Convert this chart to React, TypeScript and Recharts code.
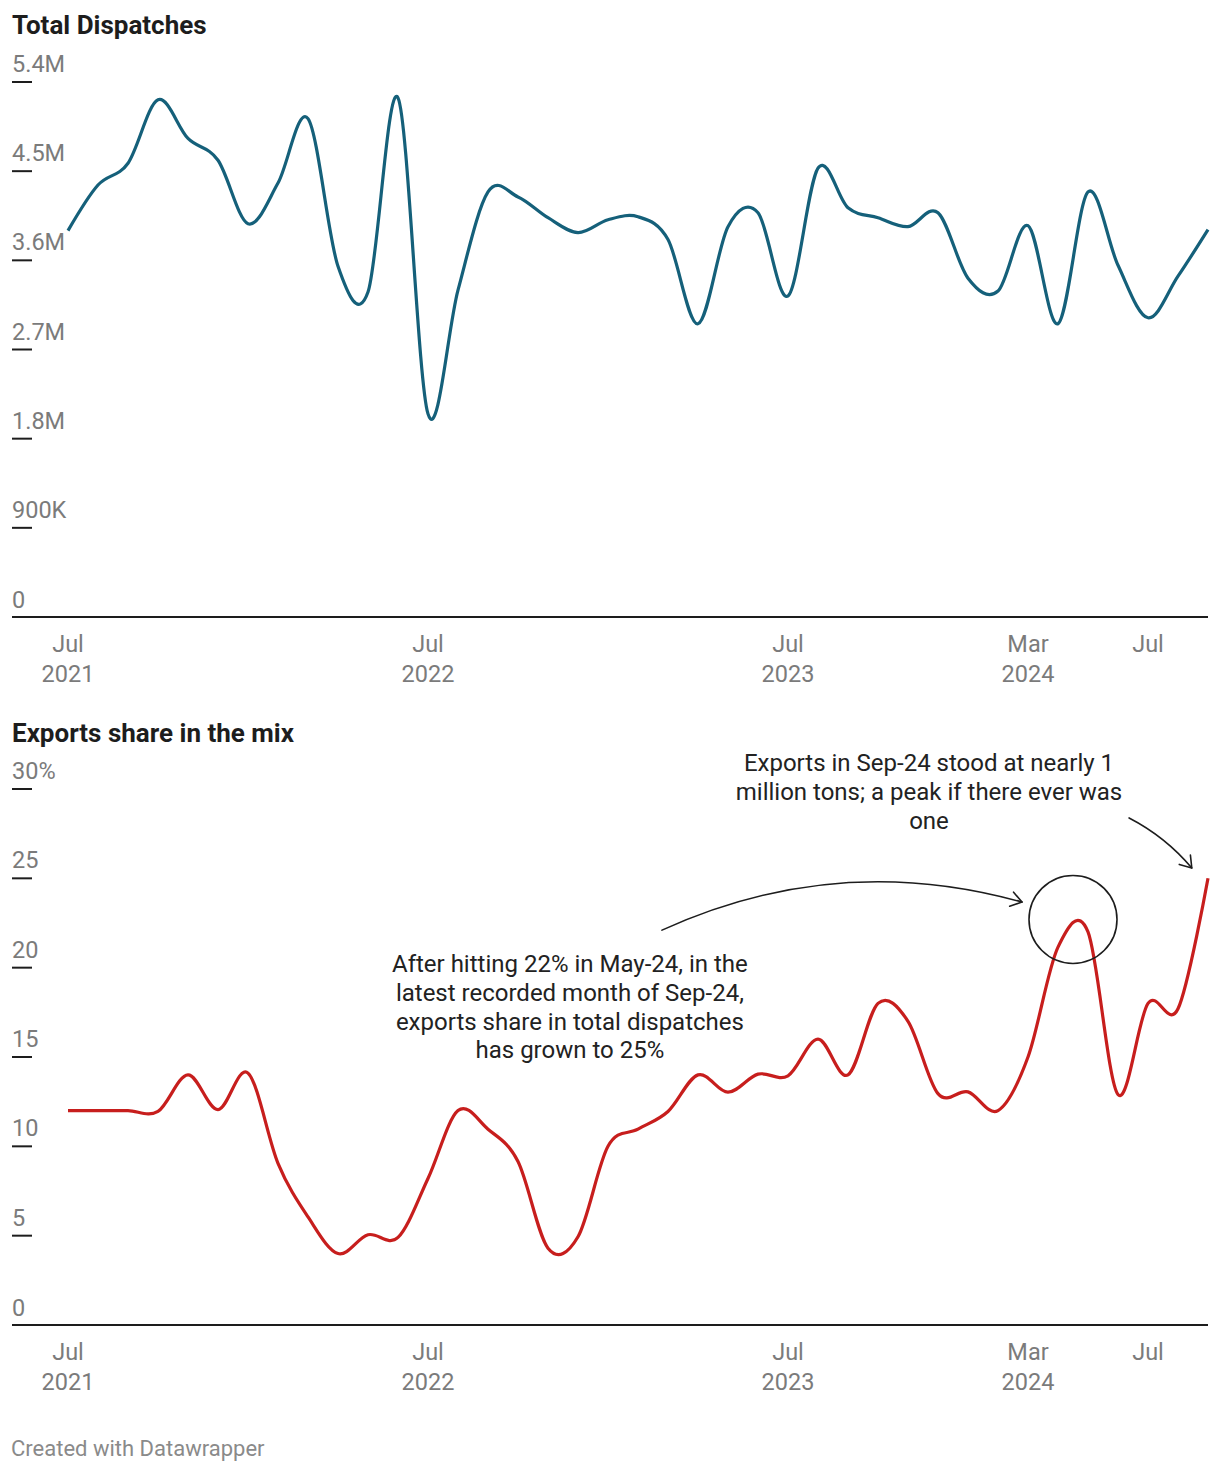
import React from 'react';
import { LineChart, Line, XAxis, YAxis, ReferenceDot, ReferenceLine } from 'recharts';

// ---------- data ----------
const months = [
  'Jul-21', 'Aug-21', 'Sep-21', 'Oct-21', 'Nov-21', 'Dec-21',
  'Jan-22', 'Feb-22', 'Mar-22', 'Apr-22', 'May-22', 'Jun-22', 'Jul-22', 'Aug-22', 'Sep-22', 'Oct-22', 'Nov-22', 'Dec-22',
  'Jan-23', 'Feb-23', 'Mar-23', 'Apr-23', 'May-23', 'Jun-23', 'Jul-23', 'Aug-23', 'Sep-23', 'Oct-23', 'Nov-23', 'Dec-23',
  'Jan-24', 'Feb-24', 'Mar-24', 'Apr-24', 'May-24', 'Jun-24', 'Jul-24', 'Aug-24', 'Sep-24',
];

// total dispatches, millions of tons
const dispatchesM = [
  3.90, 4.36, 4.58, 5.22, 4.83, 4.61,
  3.97, 4.38, 5.03, 3.54, 3.28, 5.24, 2.05, 3.30, 4.29, 4.24, 4.03, 3.88,
  4.01, 4.04, 3.81, 2.96, 3.94, 4.08, 3.24, 4.53, 4.13, 4.03, 3.94, 4.08,
  3.42, 3.29, 3.95, 2.96, 4.29, 3.55, 3.02, 3.44, 3.91,
];

// exports share in dispatches, %
const exportSharePct = [
  12.0, 12.0, 12.0, 11.95, 14.0, 12.05,
  14.1, 9.05, 6.05, 4.0, 5.05, 4.9, 8.2, 12.0, 10.96, 9.15, 4.3, 4.94,
  10.0, 10.96, 11.95, 14.0, 13.03, 14.04, 13.95, 16.0, 14.0, 18.0, 17.0, 12.95,
  13.05, 12.0, 15.0, 21.15, 22.0, 12.9, 18.0, 17.7, 25.0,
];

const xTickIdx = [0, 12, 24, 32, 36];
const xTickMonth = ['Jul', 'Jul', 'Jul', 'Mar', 'Jul'];
const xTickYear = ['2021', '2022', '2023', '2024', ''];

const dispatchTicks = [0, 0.9, 1.8, 2.7, 3.6, 4.5, 5.4];
const dispatchTickLabels = ['0', '900K', '1.8M', '2.7M', '3.6M', '4.5M', '5.4M'];
const shareTicks = [0, 5, 10, 15, 20, 25, 30];
const shareTickLabels = ['0', '5', '10', '15', '20', '25', '30%'];

const tableData = months.map((m, i) => ({
  idx: i,
  month: m,
  dispatches: dispatchesM[i],
  share: exportSharePct[i],
}));

// annotations (anchored in data coordinates: x = month index, y = %)
const noteCircle = { x: 33.5, y: 22.7 };
const noteTexts = [
  {
    x: 28.7, y: 29.38, anchorLine: 1,
    lines: ['Exports in Sep-24 stood at nearly 1', 'million tons; a peak if there ever was', 'one'],
  },
  {
    x: 16.73, y: 19.74, anchorLine: 0,
    lines: ['After hitting 22% in May-24, in the', 'latest recorded month of Sep-24,', 'exports share in total dispatches', 'has grown to 25%'],
  },
];
const noteArrows = [
  { from: { x: 35.37, y: 28.38 }, to: { x: 37.46, y: 25.58 }, bend: 8 },
  { from: { x: 19.8, y: 22.1 }, to: { x: 31.8, y: 23.67 }, bend: 66 },
];

// ---------- styles ----------
const FONT = 'Roboto, "Noto Sans", sans-serif';
const BLUE = '#15607a';
const RED = '#c71e1d';
const AXIS_GREY = '#7b7b7b';
const INK = '#1d1d1d';
const PLOT_LEFT = 12;
const TICK_FONT = 23.5;

// ---------- cardinal curve (d3 style) ----------
class CardinalCurve {
  _context: any;
  _k: number;
  _line: number = NaN;
  _point = 0;
  _x0 = NaN; _x1 = NaN; _x2 = NaN;
  _y0 = NaN; _y1 = NaN; _y2 = NaN;
  constructor(context: any, tension: number) {
    this._context = context;
    this._k = (1 - tension) / 6;
  }
  areaStart() { this._line = 0; }
  areaEnd() { this._line = NaN; }
  lineStart() {
    this._x0 = this._x1 = this._x2 = this._y0 = this._y1 = this._y2 = NaN;
    this._point = 0;
  }
  _bez(x: number, y: number) {
    this._context.bezierCurveTo(
      this._x1 + this._k * (this._x2 - this._x0),
      this._y1 + this._k * (this._y2 - this._y0),
      this._x2 + this._k * (this._x1 - x),
      this._y2 + this._k * (this._y1 - y),
      this._x2,
      this._y2,
    );
  }
  lineEnd() {
    switch (this._point) {
      case 2: this._context.lineTo(this._x2, this._y2); break;
      case 3: this._bez(this._x1, this._y1); break;
    }
    if (this._line || (this._line !== 0 && this._point === 1)) this._context.closePath();
    this._line = 1 - this._line;
  }
  point(x: number, y: number) {
    x = +x; y = +y;
    switch (this._point) {
      case 0:
        this._point = 1;
        if (this._line) this._context.lineTo(x, y); else this._context.moveTo(x, y);
        break;
      case 1:
        this._point = 2;
        this._x1 = x; this._y1 = y;
        break;
      case 2:
        this._point = 3;
        this._bez(x, y);
        break;
      default:
        this._bez(x, y);
        break;
    }
    this._x0 = this._x1; this._x1 = this._x2; this._x2 = x;
    this._y0 = this._y1; this._y1 = this._y2; this._y2 = y;
  }
}
const cardinal = (context: any) => new CardinalCurve(context, 0);

// ---------- tick renderers ----------
const makeYTick = (ticks: number[], labels: string[]) => (props: any) => {
  const { y, payload } = props;
  const i = ticks.indexOf(payload.value);
  const isZero = payload.value === 0;
  return (
    <g>
      {!isZero && <line x1={PLOT_LEFT} x2={PLOT_LEFT + 20} y1={y} y2={y} stroke={INK} strokeWidth={2} />}
      <text x={PLOT_LEFT} y={y - (isZero ? 9 : 10)} fill={AXIS_GREY} fontSize={TICK_FONT} fontFamily={FONT}>
        {labels[i]}
      </text>
    </g>
  );
};

const XTick = (props: any) => {
  const { x, y, payload } = props;
  const i = xTickIdx.indexOf(payload.value);
  return (
    <text x={x} y={y} textAnchor="middle" fill={AXIS_GREY} fontSize={TICK_FONT} fontFamily={FONT}>
      <tspan x={x} y={y + 34.8}>{xTickMonth[i]}</tspan>
      {xTickYear[i] && <tspan x={x} y={y + 65}>{xTickYear[i]}</tspan>}
    </text>
  );
};

const NoteText = (lines: string[], anchorLine: number) => (p: any) => (
  <text textAnchor="middle" fill="#222" fontSize={24} fontFamily={FONT}>
    {lines.map((l, k) => (
      <tspan key={k} x={p.cx} y={p.cy + (k - anchorLine) * 28.6}>{l}</tspan>
    ))}
  </text>
);

const ArrowShape = (bend: number) => (p: any) => {
  const { x1, y1, x2, y2 } = p;
  const dx = x2 - x1;
  const dy = y2 - y1;
  const len = Math.sqrt(dx * dx + dy * dy) || 1;
  const nx = dy / len;
  const ny = -dx / len;
  const cx = (x1 + x2) / 2 + nx * bend;
  const cy = (y1 + y2) / 2 + ny * bend;
  const tx = x2 - cx;
  const ty = y2 - cy;
  const tl = Math.sqrt(tx * tx + ty * ty) || 1;
  const ux = -tx / tl;
  const uy = -ty / tl;
  const L = 13;
  const th = (34 * Math.PI) / 180;
  const a1x = x2 + L * (ux * Math.cos(th) - uy * Math.sin(th));
  const a1y = y2 + L * (ux * Math.sin(th) + uy * Math.cos(th));
  const a2x = x2 + L * (ux * Math.cos(-th) - uy * Math.sin(-th));
  const a2y = y2 + L * (ux * Math.sin(-th) + uy * Math.cos(-th));
  return (
    <g fill="none" stroke={INK} strokeWidth={1.6} strokeLinecap="round" strokeLinejoin="round">
      <path d={`M${x1},${y1} Q${cx},${cy} ${x2},${y2}`} />
      <path d={`M${a1x},${a1y} L${x2},${y2} L${a2x},${a2y}`} />
    </g>
  );
};

export default function App() {
  return (
    <div style={{ position: 'absolute', left: 0, top: 0, width: 1220, height: 1472, background: '#fff', fontFamily: FONT }}>
      <div style={{ position: 'absolute', left: 0, top: 0 }}>
        <LineChart width={1220} height={700} data={tableData} margin={{ top: 82, right: 12, left: PLOT_LEFT - 1, bottom: 23 }}>
          <XAxis
            dataKey="idx"
            type="number"
            domain={[0, 38]}
            ticks={xTickIdx}
            interval={0}
            padding={{ left: 56, right: 0 }}
            height={60}
            tickSize={0}
            tickMargin={0}
            tickLine={false}
            axisLine={{ stroke: INK, strokeWidth: 2 }}
            tick={XTick}
          />
          <YAxis
            type="number"
            domain={[0, 5.4]}
            ticks={dispatchTicks}
            interval={0}
            width={1}
            tickSize={0}
            tickMargin={0}
            axisLine={false}
            tickLine={false}
            tick={makeYTick(dispatchTicks, dispatchTickLabels)}
          />
          <Line
            dataKey="dispatches"
            type={cardinal as any}
            stroke={BLUE}
            strokeWidth={3.2}
            dot={false}
            activeDot={false}
            isAnimationActive={false}
          />
        </LineChart>
      </div>
      <div style={{ position: 'absolute', left: 0, top: 700 }}>
        <LineChart width={1220} height={772} data={tableData} margin={{ top: 89, right: 12, left: PLOT_LEFT - 1, bottom: 87 }}>
          <XAxis
            dataKey="idx"
            type="number"
            domain={[0, 38]}
            ticks={xTickIdx}
            interval={0}
            padding={{ left: 56, right: 0 }}
            height={60}
            tickSize={0}
            tickMargin={0}
            tickLine={false}
            axisLine={{ stroke: INK, strokeWidth: 2 }}
            tick={XTick}
          />
          <YAxis
            type="number"
            domain={[0, 30]}
            ticks={shareTicks}
            interval={0}
            width={1}
            tickSize={0}
            tickMargin={0}
            axisLine={false}
            tickLine={false}
            tick={makeYTick(shareTicks, shareTickLabels)}
          />
          <Line
            dataKey="share"
            type={cardinal as any}
            stroke={RED}
            strokeWidth={3.2}
            dot={false}
            activeDot={false}
            isAnimationActive={false}
          />
          <ReferenceDot
            x={noteCircle.x}
            y={noteCircle.y}
            r={44}
            fill="none"
            stroke={INK}
            strokeWidth={1.6}
            ifOverflow="visible"
          />
          {noteArrows.map((a, k) => (
            <ReferenceLine
              key={`arrow-${k}`}
              segment={[a.from, a.to]}
              ifOverflow="visible"
              shape={ArrowShape(a.bend)}
            />
          ))}
          {noteTexts.map((n, k) => (
            <ReferenceDot
              key={`note-${k}`}
              x={n.x}
              y={n.y}
              r={0}
              ifOverflow="visible"
              shape={NoteText(n.lines, n.anchorLine)}
            />
          ))}
        </LineChart>
      </div>
      <svg width={1220} height={1472} style={{ position: 'absolute', left: 0, top: 0, pointerEvents: 'none' }}>
        <text x={12} y={34} fontSize={26} fontWeight={700} fill={INK} fontFamily={FONT}>Total Dispatches</text>
        <text x={12} y={742} fontSize={26} fontWeight={700} fill={INK} fontFamily={FONT}>Exports share in the mix</text>
        <text x={11} y={1456} fontSize={22} fill="#8a8a8a" fontFamily={FONT}>Created with Datawrapper</text>
      </svg>
    </div>
  );
}
